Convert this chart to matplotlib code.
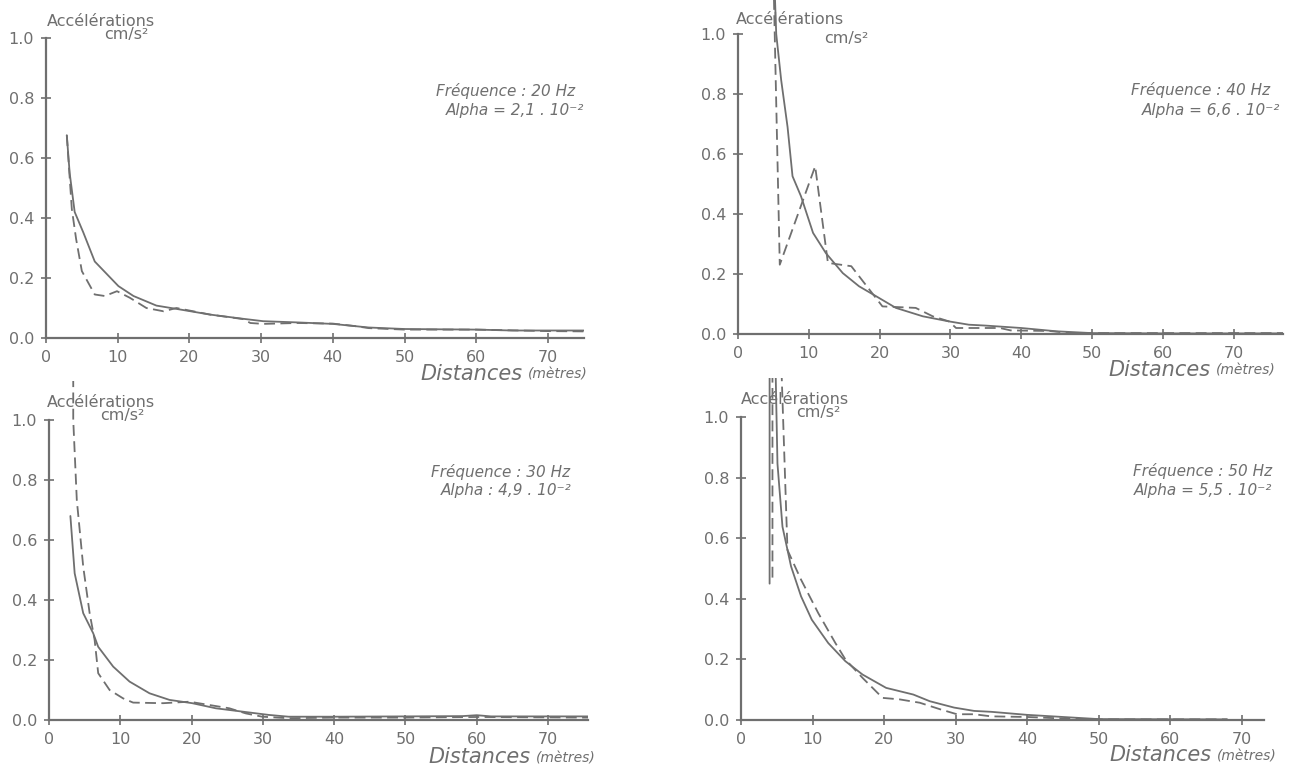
import matplotlib
matplotlib.use("Agg")
import matplotlib.pyplot as plt

# ---------------- data ----------------
x_ticks = [0, 10, 20, 30, 40, 50, 60, 70]
y_ticks = [0.0, 0.2, 0.4, 0.6, 0.8, 1.0]
y_tick_labels = ["0.0", "0.2", "0.4", "0.6", "0.8", "1.0"]

# 20 Hz
x1_solid = [2.9, 3.3, 4.0, 5.2, 6.8, 10.1, 12.2, 15.4, 18.7, 22.9, 27.5, 30.3, 35, 40, 45, 50, 60, 65, 75]
y1_solid = [0.676, 0.55, 0.42, 0.352, 0.255, 0.173, 0.14, 0.108, 0.095, 0.078, 0.064, 0.056, 0.052, 0.047, 0.035, 0.03, 0.028, 0.025, 0.025]
x1_dash = [2.9, 3.6, 4.2, 5.0, 6.8, 8.2, 9.9, 11.7, 14.0, 16.4, 18.2, 22.9, 27.5, 28.5, 30.3, 35, 40, 43, 45, 50, 60, 70, 75]
y1_dash = [0.676, 0.43, 0.33, 0.223, 0.145, 0.14, 0.156, 0.134, 0.10, 0.089, 0.10, 0.078, 0.063, 0.05, 0.047, 0.05, 0.048, 0.04, 0.033, 0.028, 0.028, 0.023, 0.022]

# 40 Hz
x2_solid = [5.1, 5.4, 6.1, 7.0, 7.7, 8.9, 10.6, 12.4, 14.8, 17.1, 19.5, 22.3, 26.1, 29.8, 32.6, 35, 40, 45, 50, 60, 77]
y2_solid = [1.2, 1.0, 0.846, 0.69, 0.526, 0.459, 0.337, 0.27, 0.203, 0.159, 0.126, 0.087, 0.059, 0.042, 0.031, 0.028, 0.02, 0.009, 0.003, 0.002, 0.002]
x2_dash = [5.0, 5.9, 10.9, 12.7, 16.0, 20.4, 25.1, 27.5, 29.8, 30.8, 37, 38.5, 44, 47, 77]
y2_dash = [1.2, 0.231, 0.559, 0.237, 0.226, 0.092, 0.087, 0.059, 0.042, 0.02, 0.02, 0.012, 0.01, 0.003, 0.003]

# 30 Hz
x3_solid = [3.0, 3.6, 4.8, 6.2, 6.9, 9.0, 11.3, 14.1, 16.9, 20.1, 23.4, 27.1, 30.8, 33.6, 40, 50, 58, 60, 62, 75.6]
y3_solid = [0.68, 0.489, 0.356, 0.289, 0.244, 0.178, 0.128, 0.089, 0.067, 0.056, 0.039, 0.028, 0.017, 0.011, 0.011, 0.012, 0.013, 0.016, 0.012, 0.012]
x3_dash = [3.4, 3.4, 3.9, 4.8, 5.7, 6.4, 6.9, 8.5, 10.4, 11.8, 16.0, 19.7, 22.5, 25.3, 27.6, 29.9, 33.6, 40, 50, 60, 75.6]
y3_dash = [1.2, 1.0, 0.733, 0.511, 0.356, 0.267, 0.156, 0.1, 0.072, 0.058, 0.056, 0.061, 0.05, 0.039, 0.022, 0.011, 0.006, 0.008, 0.008, 0.01, 0.008]

# 50 Hz
x4_solid = [4.0, 4.0, 4.8, 5.1, 5.8, 7.0, 8.4, 9.9, 12.2, 14.6, 17.0, 20.3, 24.1, 26.4, 29.8, 32.6, 35, 40, 45, 50, 68]
y4_solid = [0.45, 1.2, 1.2, 0.846, 0.638, 0.507, 0.408, 0.331, 0.254, 0.194, 0.15, 0.106, 0.084, 0.062, 0.041, 0.03, 0.027, 0.017, 0.01, 0.003, 0.002]
x4_dash = [4.4, 4.4, 5.6, 6.5, 8.4, 10.8, 13.2, 14.6, 17.0, 18.4, 19.8, 22.2, 25.0, 27.9, 30.2, 32.6, 35, 40, 45, 50, 68]
y4_dash = [0.47, 1.2, 1.2, 0.561, 0.463, 0.353, 0.254, 0.2, 0.139, 0.106, 0.073, 0.068, 0.057, 0.035, 0.019, 0.019, 0.012, 0.01, 0.005, 0.002, 0.002]

freq_labels = ["Fréquence : 20 Hz", "Fréquence : 40 Hz", "Fréquence : 30 Hz", "Fréquence : 50 Hz"]
alpha_labels = ["Alpha = 2,1 . 10⁻²", "Alpha = 6,6 . 10⁻²", "Alpha : 4,9 . 10⁻²", "Alpha = 5,5 . 10⁻²"]

# ---------------- figure ----------------
W, H = 1314, 773
GRAY = "#6f6f6f"
plt.rcParams["font.family"] = ["DejaVu Sans"]
fig = plt.figure(figsize=(W / 100, H / 100), dpi=100)
fig.patch.set_facecolor("white")

YMAX = 1.13

def px(x, y):
    return x / W, 1 - y / H

panels = [
    dict(x0=46, sx=7.17, xmax=75.0, y0=338, sy=300, xs=x1_solid, ys=y1_solid, xd=x1_dash, yd=y1_dash),
    dict(x0=738, sx=7.08, xmax=77.0, y0=334, sy=300, xs=x2_solid, ys=y2_solid, xd=x2_dash, yd=y2_dash),
    dict(x0=49, sx=7.13, xmax=75.6, y0=720, sy=300, xs=x3_solid, ys=y3_solid, xd=x3_dash, yd=y3_dash),
    dict(x0=741, sx=7.15, xmax=73.2, y0=720, sy=303, xs=x4_solid, ys=y4_solid, xd=x4_dash, yd=y4_dash),
]

acc_pos = [(47, 22), (736, 20), (47, 403), (741, 400)]
cm_pos = [(104, 35), (824, 38), (100, 416), (796, 413)]
freq_pos = [(575, 91), (1270, 90), (570, 472), (1272, 471)]
alpha_pos = [(584, 110), (1280, 110), (572, 491), (1272, 490)]
dist_pos = [(420, 374), (1108, 370), (428, 757), (1109, 755)]

for i, p in enumerate(panels):
    left = p["x0"] / W
    width = p["xmax"] * p["sx"] / W
    bottom = 1 - p["y0"] / H
    height = YMAX * p["sy"] / H
    ax = fig.add_axes([left, bottom, width, height])
    ax.set_xlim(0, p["xmax"])
    ax.set_ylim(0, YMAX)
    ax.patch.set_alpha(0)
    for s in ["top", "right"]:
        ax.spines[s].set_visible(False)
    for s in ["left", "bottom"]:
        ax.spines[s].set_color(GRAY)
        ax.spines[s].set_linewidth(1.6)
    ax.spines["left"].set_bounds(0, 1.0)
    ax.set_xticks(x_ticks)
    ax.set_yticks(y_ticks)
    ax.set_yticklabels(y_tick_labels)
    ax.tick_params(direction="inout", length=7, width=1.2, color=GRAY,
                   labelcolor=GRAY, labelsize=11.5, pad=5)
    ax.plot(p["xs"], p["ys"], color=GRAY, lw=1.3, solid_capstyle="round")
    ax.plot(p["xd"], p["yd"], color=GRAY, lw=1.3, linestyle=(0, (6, 3)))

    fig.text(*px(*acc_pos[i]), "Accélérations", color=GRAY, fontsize=11.5,
             ha="left", va="center")
    fig.text(*px(*cm_pos[i]), "cm/s²", color=GRAY, fontsize=11.5,
             ha="left", va="center")
    fig.text(*px(*freq_pos[i]), freq_labels[i], color=GRAY, fontsize=11,
             style="italic", ha="right", va="center")
    fig.text(*px(*alpha_pos[i]), alpha_labels[i], color=GRAY, fontsize=11,
             style="italic", ha="right", va="center")
    fig.text(*px(*dist_pos[i]), "Distances", color=GRAY, fontsize=15,
             style="italic", ha="left", va="center")
    fig.text(*px(dist_pos[i][0] + 108, dist_pos[i][1] + 1), "(mètres)", color=GRAY,
             fontsize=10, style="italic", ha="left", va="center")

fig.savefig("out.png", dpi=100, facecolor="white")
